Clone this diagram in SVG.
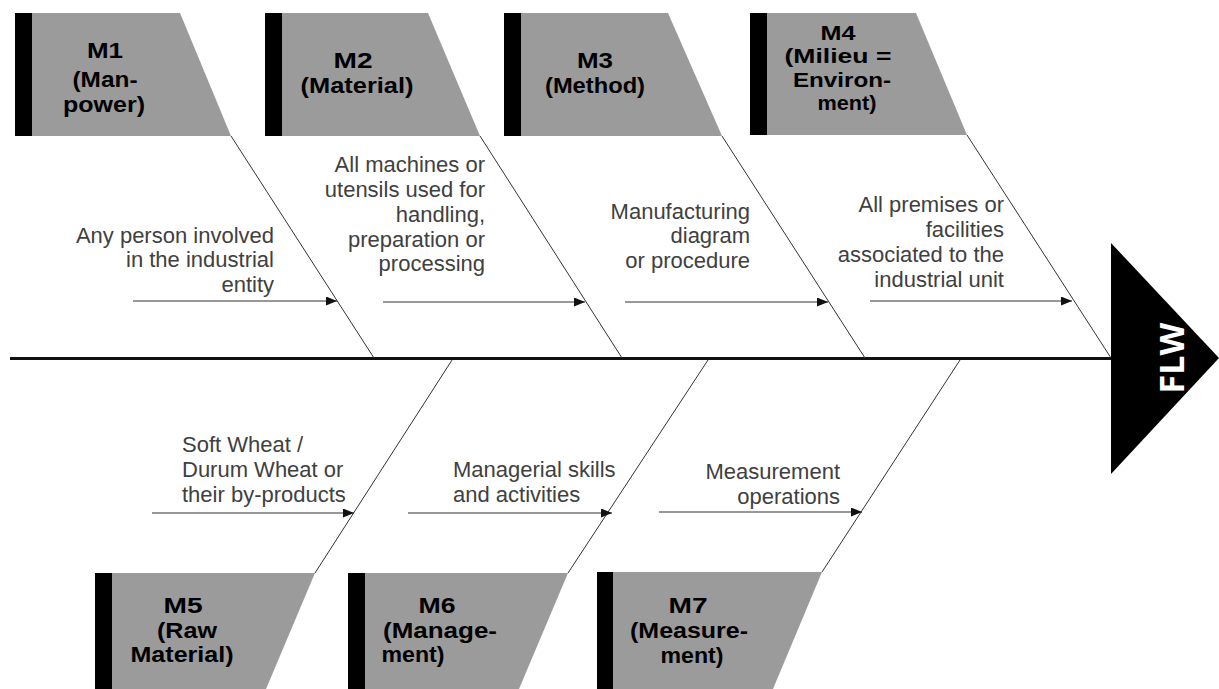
<svg xmlns="http://www.w3.org/2000/svg" width="1219" height="689" viewBox="0 0 1219 689">
  <defs>
    <marker id="arrowhead" markerUnits="userSpaceOnUse" markerWidth="11" markerHeight="9" refX="11" refY="4.5" orient="auto">
      <path d="M0,0 L11,4.5 L0,9 Z" fill="#111"/>
    </marker>
    <style>
      .bar { fill: #000; }
      .tab { fill: #9b9b9b; }
      .title { font-family: "Liberation Sans", Arial, sans-serif; font-weight: bold; font-size: 22px; fill: #000; text-anchor: middle; }
      .title4 { font-size: 19.5px; }
      .desc { font-family: "Liberation Sans", Arial, sans-serif; font-size: 22px; fill: #404040; }
      .right { text-anchor: end; }
      .left { text-anchor: start; }
      .bone { stroke: #333; stroke-width: 1; fill: none; }
      .cause { stroke: #333; stroke-width: 1.2; fill: none; marker-end: url(#arrowhead); }
      .spine { stroke: #111; stroke-width: 3; fill: none; }
      .head { fill: #000; }
      .headlabel { font-family: "Open Sans", "DejaVu Sans", sans-serif; font-weight: bold; font-size: 34px; fill: #fff; text-anchor: middle; }
    </style>
  </defs>

  <rect width="1219" height="689" fill="#fff"/>

  <!-- spine, bones and cause arrows -->
  <g id="connectors">
    <line class="spine" x1="10" y1="358.5" x2="1112" y2="358.5"/>
    <!-- upper bones -->
    <line class="bone" x1="231" y1="136" x2="374" y2="358"/>
    <line class="bone" x1="480" y1="136" x2="622" y2="358"/>
    <line class="bone" x1="722" y1="136" x2="865" y2="358"/>
    <line class="bone" x1="967" y1="135" x2="1111" y2="358"/>
    <!-- lower bones -->
    <line class="bone" x1="452" y1="360" x2="315" y2="573"/>
    <line class="bone" x1="708" y1="360" x2="568" y2="573"/>
    <line class="bone" x1="960" y1="360" x2="822" y2="572"/>
    <!-- cause arrows -->
    <line class="cause" x1="133" y1="301" x2="337" y2="301"/>
    <line class="cause" x1="383" y1="302" x2="585" y2="302"/>
    <line class="cause" x1="625" y1="302" x2="828" y2="302"/>
    <line class="cause" x1="870" y1="301" x2="1072" y2="301"/>
    <line class="cause" x1="152" y1="513" x2="354" y2="513"/>
    <line class="cause" x1="408" y1="513" x2="612" y2="513"/>
    <line class="cause" x1="659" y1="512" x2="862" y2="512"/>
  </g>

  <!-- effect head -->
  <g id="flw">
    <polygon class="head" points="1111,243 1219,358 1111,474"/>
    <text class="headlabel" transform="translate(1172,358) rotate(-90)" y="12">FLW</text>
  </g>

  <g id="m1">
    <rect class="bar" x="15" y="13" width="17" height="123"/>
    <polygon class="tab" points="32,13 180,13 231,136 32,136"/>
    <text class="title" x="105" y="58" textLength="36" lengthAdjust="spacingAndGlyphs">M1</text>
    <text class="title" x="105" y="87" textLength="65" lengthAdjust="spacingAndGlyphs">(Man-</text>
    <text class="title" x="104" y="112" textLength="82" lengthAdjust="spacingAndGlyphs">power)</text>
    <text class="desc right" x="274" y="243">Any person involved</text>
    <text class="desc right" x="274" y="267">in the industrial</text>
    <text class="desc right" x="274" y="292">entity</text>
  </g>

  <g id="m2">
    <rect class="bar" x="265" y="13" width="17" height="123"/>
    <polygon class="tab" points="282,13 428,13 480,136 282,136"/>
    <text class="title" x="353" y="68" textLength="39" lengthAdjust="spacingAndGlyphs">M2</text>
    <text class="title" x="357" y="93" textLength="113" lengthAdjust="spacingAndGlyphs">(Material)</text>
    <text class="desc right" x="485" y="172">All machines or</text>
    <text class="desc right" x="485" y="197">utensils used for</text>
    <text class="desc right" x="485" y="222">handling,</text>
    <text class="desc right" x="485" y="247">preparation or</text>
    <text class="desc right" x="485" y="271">processing</text>
  </g>

  <g id="m3">
    <rect class="bar" x="504" y="13" width="17" height="123"/>
    <polygon class="tab" points="521,13 668,13 722,136 521,136"/>
    <text class="title" x="595" y="68" textLength="36" lengthAdjust="spacingAndGlyphs">M3</text>
    <text class="title" x="595" y="93" textLength="100" lengthAdjust="spacingAndGlyphs">(Method)</text>
    <text class="desc right" x="750" y="219">Manufacturing</text>
    <text class="desc right" x="750" y="243">diagram</text>
    <text class="desc right" x="750" y="268">or procedure</text>
  </g>

  <g id="m4">
    <rect class="bar" x="750" y="13" width="17" height="122"/>
    <polygon class="tab" points="767,13 916,13 967,135 767,135"/>
    <text class="title title4" x="838" y="40" textLength="35" lengthAdjust="spacingAndGlyphs">M4</text>
    <text class="title title4" x="838" y="63" textLength="107" lengthAdjust="spacingAndGlyphs">(Milieu =</text>
    <text class="title title4" x="842" y="87" textLength="98" lengthAdjust="spacingAndGlyphs">Environ-</text>
    <text class="title title4" x="847" y="110" textLength="59" lengthAdjust="spacingAndGlyphs">ment)</text>
    <text class="desc right" x="1004" y="212">All premises or</text>
    <text class="desc right" x="1004" y="237">facilities</text>
    <text class="desc right" x="1004" y="262">associated to the</text>
    <text class="desc right" x="1004" y="287">industrial unit</text>
  </g>

  <g id="m5">
    <rect class="bar" x="95" y="573" width="17" height="116"/>
    <polygon class="tab" points="112,573 315,573 266,689 112,689"/>
    <text class="title" x="183" y="613" textLength="39" lengthAdjust="spacingAndGlyphs">M5</text>
    <text class="title" x="187" y="638" textLength="60" lengthAdjust="spacingAndGlyphs">(Raw</text>
    <text class="title" x="182" y="662" textLength="103" lengthAdjust="spacingAndGlyphs">Material)</text>
    <text class="desc left" x="182" y="452">Soft Wheat /</text>
    <text class="desc left" x="182" y="477">Durum Wheat or</text>
    <text class="desc left" x="182" y="502">their by-products</text>
  </g>

  <g id="m6">
    <rect class="bar" x="348" y="573" width="17" height="116"/>
    <polygon class="tab" points="365,573 568,573 519,689 365,689"/>
    <text class="title" x="437" y="613" textLength="37" lengthAdjust="spacingAndGlyphs">M6</text>
    <text class="title" x="440" y="638" textLength="114" lengthAdjust="spacingAndGlyphs">(Manage-</text>
    <text class="title" x="413" y="662" textLength="63" lengthAdjust="spacingAndGlyphs">ment)</text>
    <text class="desc left" x="453" y="477">Managerial skills</text>
    <text class="desc left" x="453" y="502">and activities</text>
  </g>

  <g id="m7">
    <rect class="bar" x="597" y="572" width="16" height="117"/>
    <polygon class="tab" points="613,572 822,572 773,689 613,689"/>
    <text class="title" x="688" y="613" textLength="39" lengthAdjust="spacingAndGlyphs">M7</text>
    <text class="title" x="689" y="638" textLength="118" lengthAdjust="spacingAndGlyphs">(Measure-</text>
    <text class="title" x="692" y="663" textLength="63" lengthAdjust="spacingAndGlyphs">ment)</text>
    <text class="desc right" x="840" y="479">Measurement</text>
    <text class="desc right" x="840" y="504">operations</text>
  </g>
</svg>
